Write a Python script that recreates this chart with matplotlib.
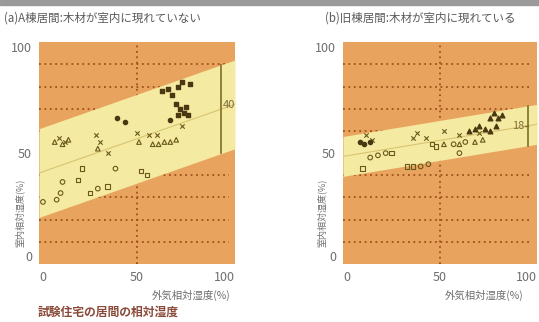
import numpy as np
import matplotlib.pyplot as plt
from matplotlib.patches import Rectangle

plt.rcParams['font.family'] = ['Noto Sans CJK JP', 'DejaVu Sans']

# (a) A棟居間
a_circ_x = [2, 9, 11, 12, 30, 39]
a_circ_y = [28, 29, 32, 37, 34, 43]
a_sq_x = [20, 22, 26, 35, 52, 55]
a_sq_y = [38, 43, 32, 35, 42, 40]
a_tri_x = [8, 12, 15, 30, 51, 58, 61, 64, 67, 70]
a_tri_y = [55, 54, 56, 52, 55, 54, 54, 55, 55, 56]
a_x_x = [10, 13, 29, 31, 35, 50, 56, 60, 73]
a_x_y = [57, 55, 58, 55, 50, 59, 58, 58, 62]
a_dot_x = [40, 44, 67]
a_dot_y = [66, 64, 65]
a_fsq_x = [63, 66, 68, 71, 73, 77, 70, 72, 74, 75, 76, 71]
a_fsq_y = [78, 79, 76, 80, 82, 81, 72, 70, 68, 71, 67, 67]

# (b) 旧棟居間
b_circ_x = [14, 18, 22, 40, 44, 57, 60, 63]
b_circ_y = [48, 49, 50, 44, 45, 54, 50, 55]
b_sq_x = [10, 25, 33, 36, 46, 48]
b_sq_y = [43, 50, 44, 44, 54, 53]
b_tri_x = [52, 60, 68, 72]
b_tri_y = [54, 54, 55, 56]
b_x_x = [12, 15, 36, 38, 43, 52, 60, 70]
b_x_y = [58, 56, 57, 59, 57, 60, 58, 59]
b_dot_x = [9, 11, 14]
b_dot_y = [55, 54, 55]
b_ftri_x = [65, 68, 70, 73, 76, 79, 76, 78, 80, 82]
b_ftri_y = [60, 61, 62, 61, 60, 62, 66, 68, 66, 67]

# band: centre line intercept, slope, half width
a_band = (41.0, 0.31, 20.0)
b_band = (48.5, 0.145, 9.0)
a_width_label = '40'
b_width_label = '18'

ORANGE = '#E8A45E'
YELLOW = '#F5EAA2'
GRID = '#A0501A'
PT = '#6A581C'
PT_FILL = '#4A3812'
TXT = '#6E6E6E'

fig = plt.figure(figsize=(5.39, 3.22), dpi=100)
fig.patches.append(Rectangle((0, 0.984), 1, 0.016, transform=fig.transFigure,
                             color='#9A9A9A', zorder=0))


def panel(ax, band, bar_x, label, label_side, pts):
    ax.set_facecolor(ORANGE)
    ax.set_xlim(0, 100)
    ax.set_ylim(0, 100)
    for yv in [10, 20, 30, 40, 60, 70, 80, 90]:
        ax.plot([0, 97], [yv, yv], ls=(0, (1, 2)), lw=1.3, color=GRID, zorder=1)
    ax.plot([50, 50], [0, 100], ls=(0, (1, 2)), lw=1.3, color=GRID, zorder=1)

    b0, k, hw = band
    xs = np.array([0, 100])
    mid = b0 + k * xs
    ax.fill_between(xs, mid - hw, mid + hw, color=YELLOW, lw=0, zorder=2)
    ax.plot(xs, mid, color='#D8C470', lw=0.8, zorder=3)

    # width of the band
    ym = b0 + k * bar_x
    ax.plot([bar_x, bar_x], [ym - hw, ym + hw], color='#7E6E28', lw=1.2, zorder=4)
    if label_side == 'right':
        ax.text(bar_x + 0.8, ym + 2, label, ha='left', va='center',
                fontsize=8, color='#7E6E3A', zorder=5)
    else:
        ax.plot([bar_x - 1.5, bar_x], [ym, ym], color='#7E6E28', lw=1, zorder=4)
        ax.text(bar_x - 2, ym, label, ha='right', va='center',
                fontsize=8, color='#7E6E3A', zorder=5)

    circ, sq, tri, xx, dot, filled, fmark = pts
    ax.scatter(*circ, marker='o', s=11, facecolor='none', edgecolor=PT, lw=0.8, zorder=6)
    ax.scatter(*sq, marker='s', s=10, facecolor='none', edgecolor=PT, lw=0.8, zorder=6)
    ax.scatter(*tri, marker='^', s=11, facecolor='none', edgecolor=PT, lw=0.8, zorder=6)
    ax.scatter(*xx, marker='x', s=10, color=PT, lw=0.8, zorder=6)
    ax.scatter(*dot, marker='o', s=9, color=PT_FILL, zorder=6)
    ax.scatter(*filled, marker=fmark, s=11, color=PT_FILL, zorder=6)

    for s in ax.spines.values():
        s.set_visible(False)
    ax.tick_params(length=0, labelsize=9, labelcolor=TXT, pad=5)
    ax.set_xticks([0, 50, 100])
    ax.set_yticks([0, 50, 100])
    tl = ax.get_xticklabels()
    tl[0].set_ha('left')
    tl[2].set_ha('right')
    yl = ax.get_yticklabels()
    yl[0].set_va('bottom')
    yl[2].set_va('top')


ax1 = fig.add_axes([0.0724, 0.180, 0.3636, 0.689])
panel(ax1, a_band, 93, a_width_label, 'right',
      ((a_circ_x, a_circ_y), (a_sq_x, a_sq_y), (a_tri_x, a_tri_y),
       (a_x_x, a_x_y), (a_dot_x, a_dot_y), (a_fsq_x, a_fsq_y), 's'))

ax2 = fig.add_axes([0.6364, 0.180, 0.360, 0.689])
panel(ax2, b_band, 95.5, b_width_label, 'left',
      ((b_circ_x, b_circ_y), (b_sq_x, b_sq_y), (b_tri_x, b_tri_y),
       (b_x_x, b_x_y), (b_dot_x, b_dot_y), (b_ftri_x, b_ftri_y), '^'))

fig.text(0.008, 0.944, '(a)A棟居間:木材が室内に現れていない',
         fontsize=8.3, color='#5A5A5A', va='center')
fig.text(0.603, 0.944, '(b)旧棟居間:木材が室内に現れている',
         fontsize=8.3, color='#5A5A5A', va='center')

for xpos in [0.037, 0.597]:
    fig.text(xpos, 0.34, '室内相対湿度(%)', rotation=90, fontsize=6.5,
             color=TXT, ha='center', va='center')
fig.text(0.428, 0.083, '外気相対湿度(%)', fontsize=7.5, color=TXT,
         ha='right', va='center')
fig.text(0.826, 0.083, '外気相対湿度(%)', fontsize=7.5, color=TXT,
         ha='left', va='center')

fig.text(0.07, 0.030, '試験住宅の居間の相対湿度', fontsize=8.5,
         color='#8A4A3A', weight='bold', va='center')

fig.savefig('out.png', dpi=100, facecolor='white')
